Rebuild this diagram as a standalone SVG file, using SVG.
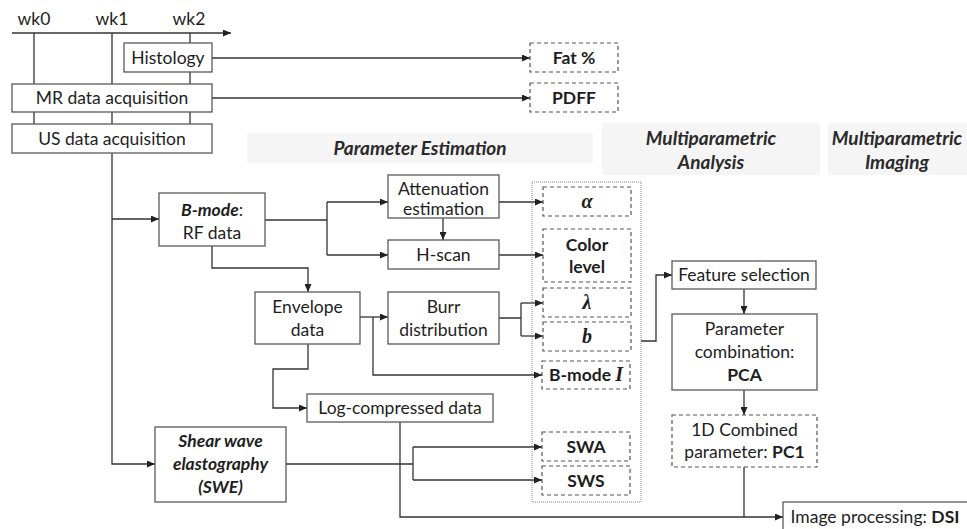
<svg xmlns="http://www.w3.org/2000/svg" width="967" height="529" viewBox="0 0 967 529">
<style>
text{font-family:Lato,"Open Sans","Noto Sans",sans-serif;font-size:17.5px;fill:#1e1e1e;text-anchor:middle}
.b{font-weight:bold}
.bi{font-weight:bold;font-style:italic}
.m{font-family:"Liberation Serif","DejaVu Serif",serif;font-weight:bold;font-style:italic;font-size:20px}
.box{fill:#fff;stroke:#5a5a5a;stroke-width:1.3}
.dash{fill:#fff;stroke:#555;stroke-width:1.2;stroke-dasharray:4 3}
.hd{fill:#f5f5f5;stroke:none}
.hdt{font-weight:bold;font-style:italic;font-size:19px;fill:#2a2a2a}
.ln{fill:none;stroke:#333;stroke-width:1.3}
.ar{marker-end:url(#ah)}
.cont{fill:none;stroke:#8a8a8a;stroke-width:1;stroke-dasharray:1 1}
</style>
<defs>
<marker id="ah" markerWidth="8" markerHeight="7" refX="8" refY="3.5" orient="auto" markerUnits="userSpaceOnUse">
<path d="M0,0 L8,3.5 L0,7 z" fill="#222"/>
</marker>
</defs>

<g id="headings">
<rect class="hd" x="247" y="133" width="346" height="30"/>
<text class="hdt" x="420" y="154.5">Parameter Estimation</text>
<rect class="hd" x="602" y="123" width="218" height="52"/>
<text class="hdt" x="711" y="144.5">Multiparametric</text>
<text class="hdt" x="711" y="168.5">Analysis</text>
<rect class="hd" x="828" y="123" width="139" height="52"/>
<text class="hdt" x="897" y="144.5">Multiparametric</text>
<text class="hdt" x="897" y="168.5">Imaging</text>
</g>

<g id="timeline">
<text x="34" y="25">wk0</text>
<text x="112" y="25">wk1</text>
<text x="189" y="25">wk2</text>
</g>

<g id="connectors">
<path class="ln ar" d="M12,33 H231"/>
<path class="ln" d="M34,33 V124 M190,33 V124"/>
<path class="ln ar" d="M112,33 V464 H155"/>
<path class="ln ar" d="M112,219 H159"/>
<path class="ln ar" d="M212,58 H530"/>
<path class="ln ar" d="M212,98 H530"/>
<path class="ln" d="M265,220 H327 M327,202 V255"/>
<path class="ln ar" d="M327,202 H388"/>
<path class="ln ar" d="M327,255 H388"/>
<path class="ln ar" d="M443,218 V240"/>
<path class="ln ar" d="M499,202 H543"/>
<path class="ln ar" d="M499,255 H543"/>
<path class="ln ar" d="M212,246 V268 H308 V292"/>
<path class="ln ar" d="M360,317 H388"/>
<path class="ln ar" d="M373,317 V375 H542"/>
<path class="ln" d="M499,318 H521 M521,303 V336"/>
<path class="ln ar" d="M521,303 H543"/>
<path class="ln ar" d="M521,336 H543"/>
<path class="ln ar" d="M308,344 V369 H273 V408 H307"/>
<path class="ln" d="M286,464 H413 M413,447 V480"/>
<path class="ln ar" d="M413,447 H542"/>
<path class="ln ar" d="M413,480 H542"/>
<path class="ln ar" d="M400,422 V517 H783"/>
<path class="ln ar" d="M641,341 H656 V275 H672"/>
<path class="ln ar" d="M744,289 V314"/>
<path class="ln ar" d="M744,390 V415"/>
<path class="ln" d="M744,467 V517"/>
</g>

<g id="container">
<rect class="cont" x="532" y="182" width="109" height="320"/>
</g>

<g id="histology">
<rect class="box" x="124" y="43" width="88" height="29"/>
<text x="168" y="64">Histology</text>
</g>
<g id="mr">
<rect class="box" x="12" y="84" width="200" height="28"/>
<text x="112" y="104">MR data acquisition</text>
</g>
<g id="us">
<rect class="box" x="12" y="124" width="200" height="29"/>
<text x="112" y="144.5">US data acquisition</text>
</g>
<g id="fat">
<rect class="dash" x="530" y="43" width="88" height="29"/>
<text class="b" x="574" y="64">Fat %</text>
</g>
<g id="pdff">
<rect class="dash" x="530" y="83" width="88" height="29"/>
<text class="b" x="574" y="104">PDFF</text>
</g>
<g id="bmode">
<rect class="box" x="159" y="193" width="106" height="53"/>
<text x="212" y="216"><tspan class="bi">B-mode</tspan>:</text>
<text x="212" y="239">RF data</text>
</g>
<g id="atten">
<rect class="box" x="388" y="175" width="111" height="43"/>
<text x="443.5" y="195">Attenuation</text>
<text x="443.5" y="215">estimation</text>
</g>
<g id="hscan">
<rect class="box" x="388" y="240" width="111" height="29"/>
<text x="443.5" y="261">H-scan</text>
</g>
<g id="alpha">
<rect class="dash" x="543" y="187" width="88" height="29"/>
<text class="m" x="587" y="207.5">α</text>
</g>
<g id="color">
<rect class="dash" x="543" y="229" width="88" height="53"/>
<text class="b" x="587" y="251">Color</text>
<text class="b" x="587" y="273">level</text>
</g>
<g id="lambda">
<rect class="dash" x="543" y="288" width="88" height="29"/>
<text class="m" x="587" y="309">λ</text>
</g>
<g id="bparam">
<rect class="dash" x="543" y="322" width="88" height="29"/>
<text class="m" x="587" y="343">b</text>
</g>
<g id="bmodeI">
<rect class="dash" x="542" y="361" width="88" height="28"/>
<text class="b" x="586" y="381">B-mode <tspan class="m">I</tspan></text>
</g>
<g id="envelope">
<rect class="box" x="255" y="292" width="105" height="52"/>
<text x="307.5" y="313">Envelope</text>
<text x="307.5" y="336">data</text>
</g>
<g id="burr">
<rect class="box" x="388" y="292" width="111" height="52"/>
<text x="443.5" y="313">Burr</text>
<text x="443.5" y="336">distribution</text>
</g>
<g id="logc">
<rect class="box" x="307" y="394" width="186" height="28"/>
<text x="400" y="414">Log-compressed data</text>
</g>
<g id="swe">
<rect class="box" x="155" y="427" width="131" height="75"/>
<text class="bi" x="220.5" y="447">Shear wave</text>
<text class="bi" x="220.5" y="470">elastography</text>
<text class="bi" x="220.5" y="493">(SWE)</text>
</g>
<g id="swa">
<rect class="dash" x="542" y="432" width="88" height="29"/>
<text class="b" x="586" y="453">SWA</text>
</g>
<g id="sws">
<rect class="dash" x="542" y="466" width="88" height="29"/>
<text class="b" x="586" y="487">SWS</text>
</g>
<g id="feature">
<rect class="box" x="672" y="261" width="144" height="28"/>
<text x="744" y="281">Feature selection</text>
</g>
<g id="pca">
<rect class="box" x="672" y="314" width="145" height="76"/>
<text x="744.5" y="335">Parameter</text>
<text x="744.5" y="358">combination:</text>
<text class="b" x="744.5" y="381">PCA</text>
</g>
<g id="pc1">
<rect class="dash" x="672" y="415" width="145" height="52"/>
<text x="744.5" y="436">1D Combined</text>
<text x="744.5" y="458">parameter: <tspan class="b">PC1</tspan></text>
</g>
<g id="dsi">
<rect class="box" x="783" y="502" width="190" height="34"/>
<text x="875" y="522.5">Image processing: <tspan class="b">DSI</tspan></text>
</g>
</svg>
